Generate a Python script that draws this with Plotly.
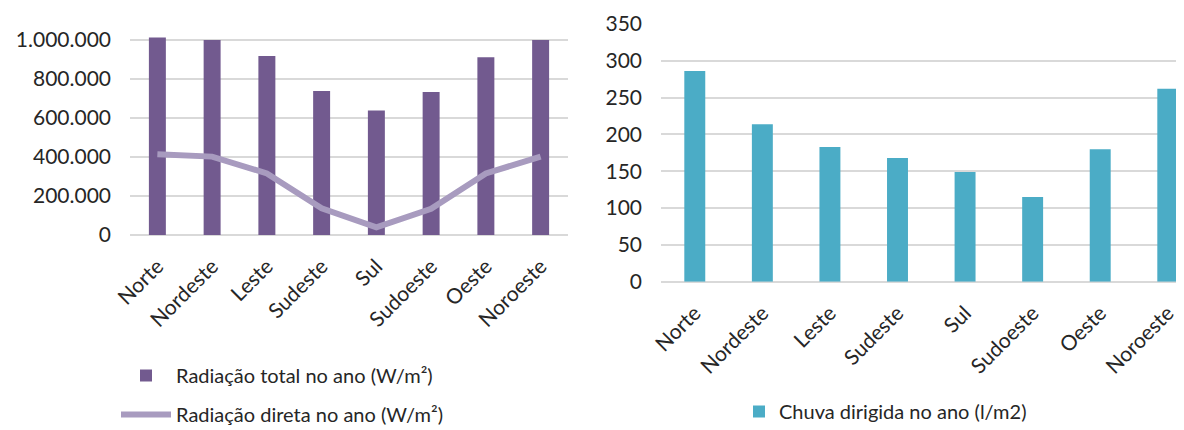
import plotly.graph_objects as go

categories = ["Norte", "Nordeste", "Leste", "Sudeste", "Sul", "Sudoeste", "Oeste", "Noroeste"]
radiacao_total = [1013000, 1000000, 918000, 739000, 638000, 733000, 911000, 1000000]
radiacao_direta = [414000, 402000, 316000, 137000, 39000, 134000, 316000, 402000]
chuva_dirigida = [286, 214, 183, 168, 149, 115, 180, 262]

left_ticks = [0, 200000, 400000, 600000, 800000, 1000000]
right_ticks = [0, 50, 100, 150, 200, 250, 300, 350]

FONT = "Lato, Open Sans, sans-serif"
TXT = "#262626"
GRID = "#d9d9d9"

W, H = 1176, 422

fig = go.Figure()

fig.add_trace(go.Bar(
    x=categories, y=radiacao_total, name="Radiação total no ano (W/m²)",
    marker=dict(color="#725a8f", line=dict(width=0)),
    xaxis="x", yaxis="y", legend="legend", legendgroup="a",
))
fig.add_trace(go.Scatter(
    x=categories, y=radiacao_direta, name="Radiação direta no ano (W/m²)",
    mode="lines", line=dict(color="#a89bbf", width=6),
    xaxis="x", yaxis="y", legend="legend", legendgroup="b",
))
fig.add_trace(go.Bar(
    x=categories, y=chuva_dirigida, name="Chuva dirigida no ano (l/m2)",
    marker=dict(color="#4bacc6", line=dict(width=0)),
    xaxis="x2", yaxis="y2", legend="legend2",
))

axis_font = dict(family=FONT, size=21, color=TXT)

fig.update_layout(
    template="none",
    width=W, height=H, autosize=False,
    margin=dict(l=0, r=0, t=0, b=0, pad=0, autoexpand=False),
    paper_bgcolor="white", plot_bgcolor="white",
    separators=",.",
    font=dict(family=FONT, size=20, color=TXT),
    bargap=0.69,
    xaxis=dict(
        domain=[122/W, 560/W], anchor="y", automargin=False,
        type="category", tickangle=-45, tickfont=axis_font,
        showgrid=False, showline=False, ticks="", zeroline=False,
        range=[-0.5, 7.5], ticklabelstandoff=14,
    ),
    yaxis=dict(
        domain=[1 - 227/H, 1 - 22.25/H], anchor="x", automargin=False,
        range=[0, 1050000], tickvals=left_ticks, tickformat=",d",
        tickfont=axis_font, showgrid=True, gridcolor=GRID, gridwidth=2,
        zeroline=True, zerolinecolor=GRID, zerolinewidth=2,
        showline=False, ticks="", ticklabelstandoff=18,
    ),
    xaxis2=dict(
        domain=[653/W, 1.0], anchor="y2", automargin=False,
        type="category", tickangle=-45, tickfont=axis_font,
        showgrid=False, showline=False, ticks="", zeroline=False,
        range=[-0.5, 7.24], ticklabelstandoff=14,
    ),
    yaxis2=dict(
        domain=[1 - 273.7/H, 1 - 16/H], anchor="x2", automargin=False,
        range=[0, 350], tickvals=right_ticks,
        tickfont=axis_font, showgrid=True, gridcolor=GRID, gridwidth=2,
        zeroline=True, zerolinecolor=GRID, zerolinewidth=2,
        showline=False, ticks="", ticklabelstandoff=18,
    ),
    legend=dict(
        x=108/W, y=1 - 348/H, xanchor="left", yanchor="top",
        orientation="v", font=dict(family=FONT, size=20, color=TXT),
        bgcolor="rgba(0,0,0,0)", tracegroupgap=10, itemwidth=50,
    ),
    legend2=dict(
        x=731/W, y=1 - 384/H, xanchor="left", yanchor="top",
        orientation="v", font=dict(family=FONT, size=20, color=TXT),
        bgcolor="rgba(0,0,0,0)",
    ),
    showlegend=True,
)

fig.write_html("out.html")
